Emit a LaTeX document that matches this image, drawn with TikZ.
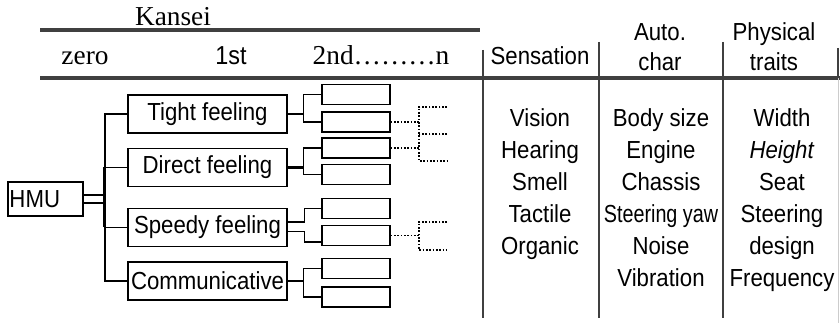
\documentclass[tikz,border=0pt]{standalone}
\usepackage{fontspec}
\usepackage{graphicx}
\setmainfont{Liberation Serif}
\setsansfont{Liberation Sans}[FakeStretch=0.9]
\usetikzlibrary{positioning}
\definecolor{rulegray}{HTML}{404040}
\tikzset{
    lvlbox/.style={draw, line width=1.2pt, minimum width=119pt, minimum height=28.5pt, inner sep=0pt, font=\sffamily\fontsize{18.5}{20}\selectfont},
    subbox/.style={draw, line width=1.2pt, minimum width=51pt, minimum height=15pt, inner sep=0pt},
    headrule/.style={line width=3.5pt, rulegray},
    colline/.style={line width=1.4pt, rulegray},
    serifhead/.style={anchor=base, inner sep=0pt, font=\fontsize{20.5}{22}\selectfont},
    sanshead/.style={anchor=north, inner sep=0pt, align=center, font=\sffamily\fontsize{18.5}{22.5}\selectfont},
    collist/.style={anchor=north, inner sep=0pt, align=center, font=\sffamily\fontsize{18.5}{24}\selectfont},
    dotline/.style={line width=1.2pt, dash pattern=on 1.2pt off 1.3pt}
}
\begin{document}
\begin{tikzpicture}[x=0.75pt, y=-0.75pt, line width=1.2pt]
        \useasboundingbox (0,0) rectangle (840,323);
        % header
        \node[serifhead] (kansei) at (173,26) {Kansei};
        \draw[headrule] (40,30) -- (480,30);
        \draw[headrule] (40,78) -- (840,78);
        \node[serifhead] (zero) at (85,65) {zero};
        \node[serifhead, font=\sffamily\fontsize{19.5}{22}\selectfont] (first) at (231,65) {1st};
        \node[serifhead] (nth) at (381,65) {2nd\dots\dots\dots n};
        \node[sanshead] (sens) at (540,45.5) {Sensation};
        \node[sanshead] (auto) at (660,23) {Auto.\\char};
        \node[sanshead] (phys) at (774,22) {Physical\\traits};
        \draw[colline] (483,50) -- (483,318);
        \draw[colline] (599,42) -- (599,318);
        \draw[colline] (723,42) -- (723,318);
        \draw[colline] (838,48) -- (838,78);
        \draw[line width=0.8pt, gray!40] (838.5,78) -- (838.5,323);
        % columns
        \node[collist] (senslist) at (540,107.5) {Vision\\Hearing\\Smell\\Tactile\\Organic};
        \node[collist] (autolist) at (661,107.5) {Body size\\Engine\\Chassis\\\scalebox{0.89}[1]{Steering yaw}\\Noise\\Vibration};
        \node[collist] (physlist) at (782,107.5) {Width\\\textit{Height}\\Seat\\Steering\\design\\Frequency};
        % tree
        \node[draw, line width=1.2pt, minimum height=25.5pt, inner sep=1pt, text width=54pt, align=left, font=\sffamily\fontsize{18.5}{20}\selectfont] (hmu) at (45.5,199) {HMU};
        \node[lvlbox] (tg) at (207.5,114) {Tight feeling};
        \node[lvlbox] (dr) at (207.5,167.5) {Direct feeling};
        \node[lvlbox] (sp) at (207.5,227.5) {Speedy feeling};
        \node[lvlbox] (cm) at (207.5,281) {Communicative};
        \coordinate[left=17pt of tg] (tgj);
        \coordinate[left=17pt of dr] (drj);
        \coordinate[left=17pt of sp] (spj);
        \coordinate[left=17pt of cm] (cmj);
        \draw (tg) -- (tgj) -- (cmj) -- (cm);
        \draw (dr) -- (drj);
        \draw (sp) -- (spj);
        \draw[line width=2pt] (drj) -- (spj);
        \draw ([yshift=3pt]hmu.east) -- ([yshift=3pt]hmu.east -| tgj);
        \draw ([yshift=-3pt]hmu.east) -- ([yshift=-3pt]hmu.east -| tgj);
        \node[subbox] (tg1) at (356,94.5) {};
        \node[subbox] (tg2) at (356,122) {};
        \node[subbox] (dr1) at (356,148) {};
        \node[subbox] (dr2) at (356,174.5) {};
        \node[subbox] (sp1) at (356,208.5) {};
        \node[subbox] (sp2) at (356,235.5) {};
        \node[subbox] (cm1) at (356,268.5) {};
        \node[subbox] (cm2) at (356,297) {};
        \coordinate[right=12pt of tg] (tgk);
        \coordinate[right=12pt of dr] (drk);
        \coordinate[right=12pt of cm] (cmk);
        \draw[line width=1.8pt] (tg) -- (tgk);
        \draw (tgk) |- (tg1) (tgk) |- (tg2);
        \draw[line width=1.8pt] (dr) -- (drk);
        \draw (drk) |- (dr1) (drk) |- (dr2);
        \draw (cm) -- (cmk);
        \draw (cmk) |- (cm1) (cmk) |- (cm2);
        \draw ([yshift=4pt]sp.east) -- ++(17,0) |- (sp1);
        \draw ([yshift=-3pt]sp.east) -- ++(17,0) |- ([yshift=-5pt]sp2.west);
        % dotted branches
        \coordinate (n1) at (447,107);
        \coordinate (n2) at (447,134);
        \coordinate (n3) at (447,161);
        \coordinate (n4) at (447,222);
        \coordinate (n5) at (447,250);
        \draw[dotline] (tg2.east) -- ++(28,0) coordinate (tdot);
        \draw[dotline] (dr1.east) -- (dr1.east -| tdot);
        \draw[dotline] (n1) -| (tdot |- n3) -- (n3);
        \draw[dotline] (n2) -- (n2 -| tdot);
        \draw[dotline] (sp2.east) -- ++(28,0) coordinate (sdot);
        \draw[dotline] (n4) -| (sdot |- n5) -- (n5);
\end{tikzpicture}
\end{document}
